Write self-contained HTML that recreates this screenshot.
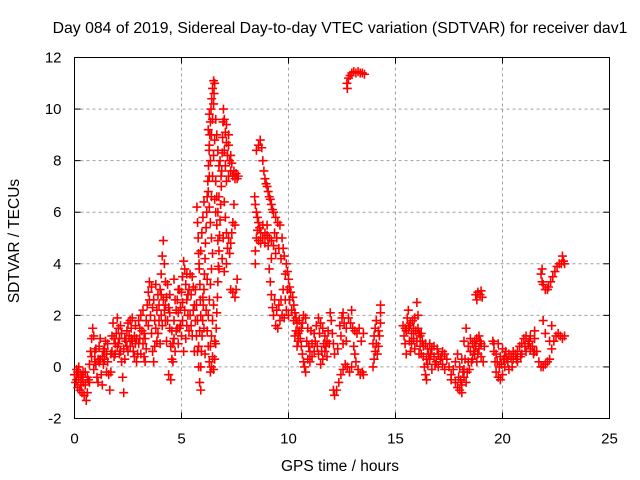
<!DOCTYPE html>
<html><head><meta charset="utf-8"><style>
html,body{margin:0;padding:0;background:#fff;}
svg{display:block;font-family:"Liberation Sans",sans-serif;}
</style></head><body>
<svg id="chart" width="640" height="480">
<text x="340" y="33" font-size="15.8" text-anchor="middle">Day 084 of 2019, Sidereal Day-to-day VTEC variation (SDTVAR) for receiver dav1</text>
<g id="grid"></g>
<g id="axes"></g>
<g id="marks"></g>
<text x="340" y="471" font-size="15.5" text-anchor="middle">GPS time / hours</text>
<text transform="translate(19,241) rotate(-90)" font-size="15.5" text-anchor="middle">SDTVAR / TECUs</text>
</svg>
<script>
const xTicks=[0,5,10,15,20,25];
const yTicks=[-2,0,2,4,6,8,10,12];
const segLow=[[0,-0.3],[0.05,-0.6],[0.1,-0.1],[0.15,-0.8],[0.2,-0.4],[0.25,-0.9],[0.3,-0.3],[0.35,-1.0],[0.4,-0.6],[0.45,-1.1],[0.5,-0.7],[0.55,-1.3],[0.6,-1.0],[0.65,-0.5],[0.7,0.1],[0.75,0.6],[0.8,1.1],[0.85,1.5],[0.9,1.2],[0.95,0.6],[1.0,0.1],[1.05,-0.4],[1.1,0.3],[1.15,0.8],[1.2,0.3],[1.25,-0.3],[1.3,-0.7],[1.35,0.1],[1.4,0.7],[1.45,1.0],[1.5,0.5],[1.55,0.9],[1.6,-0.3],[1.65,-0.9],[1.7,0.5],[1.75,1.2],[1.8,1.7],[1.85,1.1],[1.9,0.5],[1.95,1.3],[2.0,1.9],[2.05,1.5],[2.1,1.1],[2.15,0.6],[2.2,0.2],[2.25,-0.4],[2.3,-1.0],[2.35,0.3],[2.4,1.0],[2.45,1.4],[2.5,1.7],[2.55,1.2],[2.6,0.8],[2.65,1.5],[2.7,1.0],[2.75,0.6],[2.8,1.2],[2.85,1.6],[2.9,1.1],[2.95,0.5],[3.0,0.9],[3.05,1.5],[3.1,2.0],[3.15,1.4],[3.2,0.9],[3.25,0.4],[3.3,1.1],[3.35,1.8],[3.4,2.4],[3.45,2.9],[3.5,3.3],
[0.1,-0.5],[0.3,-0.7],[0.5,-0.2],[0.7,-0.6],[0.9,-0.1],[1.1,-0.6],[1.3,0.4],[1.5,-0.2],[1.7,-0.2],[1.9,0.9],[2.1,0.5],[2.3,0.7],[2.5,0.6],[2.7,1.9],[2.9,0.2],[3.1,0.5],[3.3,0.2],[0.2,0.0],[0.4,-0.2],[1.0,0.7],[1.2,1.1],[1.4,0.3],[2.0,0.8],[2.2,1.3],[2.6,1.8],[2.8,0.4],[3.0,1.8],[3.2,2.2],
[0.15,-0.2],[0.35,-0.4],[0.6,-0.4],[0.8,0.4],[0.95,0.2],[1.15,0.2],[1.35,0.6],[1.55,0.2],[1.75,0.6],[1.85,0.4],[2.05,0.9],[2.15,1.6],[2.35,1.1],[2.45,0.8],[2.65,1.1],[2.85,0.9],[3.05,1.1],[3.25,1.3],[3.35,0.7],[3.45,1.6]];
const segMorning=[[3.5,2.6],[3.55,2.0],[3.6,1.3],[3.65,0.6],[3.7,0.2],[3.75,0.8],[3.8,1.5],[3.85,2.2],[3.9,2.8],[3.95,2.4],[4.0,3.0],[4.05,3.6],[4.1,4.3],[4.15,4.9],[4.2,4.0],[4.25,3.3],[4.3,2.7],[4.35,3.2],[4.4,2.3],[4.45,1.5],[4.5,0.8],[4.55,0.3],[4.6,0.9],[4.65,1.8],[4.7,2.6],[4.75,2.2],[4.8,1.5],[4.85,0.9],[4.9,1.5],[4.95,2.3],[5.0,2.9],[5.05,3.5],[5.1,4.1],[5.15,3.8],[5.2,3.2],[5.25,2.6],[5.3,2.0],[5.35,1.4],[5.4,2.0],[5.45,2.8],[5.5,3.5],[5.55,3.1],[5.6,2.4],[5.65,1.8],[5.7,1.2],[5.75,0.6],[5.8,0.0],[5.85,-0.6],[5.9,-0.9],
[3.6,3.1],[3.7,2.6],[3.8,3.2],[3.9,1.3],[4.0,0.9],[4.1,1.6],[4.2,2.2],[4.3,1.0],[4.4,-0.3],[4.5,-0.5],[4.6,0.2],[4.7,0.6],[4.8,2.6],[4.9,3.0],[5.0,1.2],[5.1,0.6],[5.2,1.1],[5.3,2.8],[5.4,3.6],[5.5,1.2],[5.6,0.6],[5.7,2.4],[4.05,2.0],[4.25,1.8],[4.45,2.8],[4.65,3.4],[4.85,3.0],[5.05,1.8],[5.25,1.6],
[3.65,2.3],[3.75,1.8],[3.85,1.0],[3.95,1.8],[4.05,2.8],[4.15,2.6],[4.25,2.4],[4.35,1.8],[4.45,2.1],[4.55,1.4],[4.65,1.1],[4.75,1.4],[4.85,2.1],[4.95,1.6],[5.05,2.5],[5.15,2.2],[5.25,3.6],[5.35,3.0],[5.45,1.6],[5.55,2.2],[5.65,3.0],[5.75,1.8]];
const segPeak=[[5.9,0.0],[5.93,0.6],[5.96,1.2],[5.99,1.8],[6.02,2.4],[6.05,3.0],[6.07,3.6],[6.1,4.2],[6.12,4.8],[6.15,5.4],[6.18,6.0],[6.2,6.6],[6.23,7.2],[6.26,7.8],[6.29,8.4],[6.32,9.0],[6.35,9.5],[6.38,10.0],[6.41,10.4],[6.45,10.8],[6.5,11.1],[6.55,11.0],[6.52,10.6],
[5.72,6.2],[5.75,5.6],[5.78,5.0],[5.8,4.4],[5.83,3.8],[5.86,3.2],[5.88,2.6],[5.9,2.0],[5.85,1.4],[5.8,0.8],[5.82,4.0],[5.9,4.5],[5.95,5.2],[6.0,5.8],[6.05,6.4],
[6.3,9.8],[6.25,9.2],[6.3,8.6],[6.35,8.0],[6.3,7.4],[6.25,6.8],[6.3,6.2],[6.35,5.6],[6.4,5.0],[6.45,4.4],[6.4,3.8],[6.35,3.2],[6.3,2.6],[6.25,2.0],[6.2,1.4],[6.25,0.8],[6.3,0.2],[6.35,-0.2],[6.4,0.0],[6.45,0.4],[6.5,-0.1],[6.55,0.3],[6.6,0.9],[6.62,1.5],[6.65,2.1],[6.68,2.7],[6.7,3.3],[6.72,3.9],[6.75,4.5],[6.78,5.1],[6.8,5.7],[6.83,6.3],[6.86,7.0],[6.88,7.6],[6.9,8.3],[6.92,8.9],[6.94,9.5],[6.96,10.0],[7.0,9.6],[7.05,9.1],[7.1,8.7],[7.15,8.2],[7.2,8.6],[7.25,8.0],[7.3,7.6],[7.35,7.9],[7.4,7.4],[7.45,7.6],[7.5,7.3],[7.55,7.5],[7.6,7.3],[7.65,7.4],
[6.6,9.6],[6.65,9.0],[6.7,8.4],[6.75,7.8],[6.8,8.0],[6.85,7.4],[6.55,6.5],[6.6,6.0],[6.65,5.5],[6.7,4.9],[6.75,3.8],
[6.9,4.2],[7.0,3.7],[7.1,4.0],[7.15,4.6],[7.2,5.0],[7.25,4.4],[7.3,4.8],[7.35,5.2],[7.4,5.6],[7.45,6.3],[7.5,5.5],[7.3,3.0],[7.4,2.9],[7.5,2.7],[7.55,3.0],[7.6,3.4],
[6.0,2.7],[6.05,1.5],[6.1,0.5],[6.15,2.2],[6.2,3.4],[6.4,6.6],[6.45,7.4],[6.5,8.2],[6.55,8.8],[6.4,9.0],[6.45,9.6],[6.5,10.2],[6.6,7.2],[6.65,6.6],[6.7,6.0],[6.75,6.6],[7.0,8.4],[7.05,7.8],[7.1,7.2],[7.0,6.4],[7.05,5.8],[7.1,5.2],[6.95,5.0],[6.4,1.2],[6.45,1.8],[6.5,2.4],[6.55,1.0],[6.35,0.8],[7.2,7.4],[7.3,8.2],[7.1,9.4],[7.2,9.0]];
const segDecay=[[8.5,8.4],[8.6,8.6],[8.68,8.8],[8.75,8.5],[8.8,8.0],[8.85,7.6],[8.9,7.3],[8.95,7.1],[9.0,7.0],[9.05,6.8],[9.1,6.6],[9.15,6.5],[9.2,6.3],[9.25,6.1],[9.3,6.0],[9.4,5.8],[9.5,5.6],[9.6,5.5],[9.7,5.0],[9.75,4.6],[9.8,4.3],[9.9,4.0],[9.95,3.7],[10.0,3.4],[10.05,3.1],[10.1,2.9],[10.2,2.7],[10.25,2.4],[10.3,2.1],[10.35,1.9],[10.4,1.7],[10.5,1.4],[10.55,1.1],[10.6,0.8],[10.65,0.5],[10.7,0.2],
[8.42,6.6],[8.45,6.3],[8.5,6.0],[8.55,5.8],[8.6,5.6],[8.65,5.4],[8.7,5.2],[8.5,5.0],[8.6,4.9],[8.8,5.0],[8.9,5.2],[9.0,5.1],[9.1,5.0],[9.2,4.9],[9.3,4.7],[9.4,4.4],[9.2,4.2],[9.1,3.8],[9.15,3.3],[9.2,2.8],[9.25,2.3],[9.3,2.0],[9.4,1.6],[9.5,1.5],[9.6,1.8],[9.7,2.0],[9.8,1.9],[9.9,2.2],[10.0,2.0],[8.45,4.5],[8.45,4.0],[8.8,5.5],[9.0,5.5],
[8.55,5.3],[8.7,4.8],[8.9,4.8],[9.05,4.7],[9.35,5.2],[9.45,5.0],[9.55,4.6],[9.65,4.2],[9.85,3.6],[9.95,3.0],[10.05,2.6],[10.15,2.2],[10.25,1.8],[10.35,1.4],[10.45,1.0],[9.35,2.6],[9.45,2.2],[9.55,2.4],[9.65,2.6],[9.75,3.0],[9.85,2.6]];
const segMidday=[[10.3,1.2],[10.4,0.8],[10.5,1.8],[10.6,1.5],[10.7,2.0],[10.8,1.9],[10.9,1.5],[10.75,0.0],[10.8,-0.2],[10.9,0.3],[11.0,0.6],[11.1,0.9],[11.2,1.3],[11.3,1.6],[11.4,1.9],[11.5,1.7],[11.6,1.5],[11.7,1.2],[11.8,1.0],[11.0,0.2],[11.1,0.4],[11.2,0.6],[11.4,0.5],[11.5,0.1],[11.6,0.3],[11.7,0.6],[11.8,0.4],[11.9,0.9],[11.95,2.1],[12.0,1.8],[12.05,1.3],[12.1,0.9],[12.15,0.5],[12.1,-0.9],[12.15,-1.1],[12.25,-0.9],[12.35,-0.6],[12.45,-0.3],[12.55,-0.1],[12.65,0.1],[12.75,0.0],[12.85,-0.2],[12.95,0.0],[13.05,0.8],[13.15,0.2],[13.25,-0.1],[13.35,-0.3],[13.45,-0.2],[13.5,-0.3],[12.3,0.7],[12.4,1.6],[12.5,1.9],[12.6,1.7],[12.7,1.5],[12.8,1.9],[12.9,1.7],[13.0,1.5],[13.1,1.4],[13.2,1.3],[13.3,1.5],[13.4,1.0],[13.5,1.3],[12.45,1.2],[12.55,0.9],[12.7,1.0],[13.1,0.5],[12.55,2.1],[12.95,2.2],
[10.45,1.3],[10.65,1.7],[10.85,1.0],[10.95,0.8],[11.05,1.4],[11.25,1.0],[11.35,0.8],[11.45,1.3],[11.55,0.6],[11.65,0.9],[11.75,0.8],[11.85,1.4],
[13.95,0.0],[14.0,0.3],[14.05,0.6],[13.95,0.9],[14.0,1.2],[14.05,1.5],[14.1,1.8],[14.15,0.5],[14.2,0.8],[14.25,1.2],[14.3,1.7],[14.3,2.1],[14.3,2.4],[14.2,1.4],[14.1,0.9],
[12.73,11.0],[12.8,11.2],[12.88,11.3],[12.96,11.4],[13.05,11.45],[13.15,11.4],[13.25,11.45],[13.35,11.4],[13.45,11.4],[13.55,11.35],[12.75,10.8]];
const segEvening=[[15.35,1.6],[15.4,1.2],[15.45,0.9],[15.5,1.4],[15.55,1.9],[15.6,1.5],[15.65,1.0],[15.7,0.6],[15.75,1.3],[15.8,1.8],[15.85,1.1],[15.9,0.7],[15.95,1.4],[16.0,2.5],[16.05,2.0],[16.1,1.3],[16.15,0.8],[16.2,0.5],[16.25,1.0],[16.3,0.4],[16.35,0.0],[16.4,-0.3],[16.45,-0.5],[16.5,0.1],[16.55,0.5],[16.6,0.9],[16.7,0.7],[16.8,0.4],[16.9,0.2],[17.0,0.5],[17.1,0.3],[17.2,0.6],[17.3,0.5],[17.4,0.3],[15.5,0.5],[15.6,2.2],[15.7,1.7],[15.9,1.9],[16.0,1.0],[16.1,0.5],[16.2,1.3],[16.4,0.9],[16.5,0.7],[16.6,0.3],[16.7,-0.1],[16.8,0.8],[17.0,0.0],[17.2,0.1],[17.3,-0.1],[17.5,0.0],[17.6,-0.3],
[15.45,1.5],[15.65,1.6],[15.75,0.9],[15.85,1.5],[16.05,1.5],[16.15,1.2],[16.3,0.8],[16.45,0.3],[16.65,0.5],[16.85,0.1],[16.95,0.7],[17.15,0.4],
[17.6,-0.5],[17.7,-0.1],[17.8,-0.6],[17.9,-0.8],[18.0,-0.9],[18.1,-0.7],[18.2,-0.4],[18.3,-0.6],[18.35,-0.2],[18.4,0.2],[18.5,0.6],[18.6,0.9],[18.7,1.0],[18.8,1.1],[18.9,0.7],[19.0,0.4],[19.1,0.2],[19.15,0.8],[17.8,0.2],[17.9,0.5],[18.0,0.0],[18.1,0.3],[18.2,-0.1],[18.4,0.8],[18.5,1.1],[18.6,0.3],[18.7,0.5],[18.8,0.2],[18.9,1.2],[19.0,0.9],[18.2,1.0],[18.3,1.5],[18.1,-1.0],
[17.95,-0.4],[18.05,-0.5],[18.15,-0.2],[18.25,0.3],[18.45,-0.1],[18.55,0.2],[18.65,0.6],[18.75,0.8],[18.85,0.5],[18.95,1.0],
[18.75,2.8],[18.85,2.9],[18.95,2.8],[19.05,2.7],[18.8,2.6],[19.0,2.95]];
const segNight=[[19.55,1.0],[19.6,0.6],[19.65,0.2],[19.7,-0.2],[19.8,-0.4],[19.9,-0.5],[20.0,-0.3],[20.1,0.0],[20.2,0.3],[20.3,0.5],[20.4,0.4],[20.5,0.3],[20.6,0.5],[20.7,0.6],[20.8,0.8],[20.9,0.9],[21.0,1.1],[21.1,1.2],[21.2,0.9],[21.3,0.7],[21.4,0.8],[21.5,0.6],[21.6,0.6],[21.7,0.2],[21.8,0.0],[21.9,0.0],[22.0,0.1],[22.1,0.2],[22.2,0.3],[22.3,0.7],[22.4,1.0],[22.5,1.2],[22.6,1.3],[22.7,1.2],[22.8,1.1],[22.9,1.2],[19.6,0.9],[19.7,0.5],[19.8,0.9],[19.9,0.4],[20.0,0.7],[20.1,0.4],[20.3,-0.1],[20.5,0.6],[20.7,0.2],[20.9,0.5],[21.1,0.6],[21.3,1.2],[21.5,1.1],[21.5,1.4],[21.9,1.8],[22.0,1.3],[22.2,1.0],[22.3,1.6],
[19.75,0.2],[19.85,0.0],[19.95,0.1],[20.05,0.3],[20.15,0.6],[20.25,0.2],[20.45,0.0],[20.65,0.3],[20.85,0.4],[21.05,0.8],[21.25,1.0],[21.45,0.5],
[21.8,3.6],[21.85,3.3],[21.9,3.2],[22.0,3.0],[22.1,3.0],[22.15,3.1],[22.25,3.3],[22.35,3.5],[22.45,3.7],[22.55,3.9],[22.65,4.0],[22.75,4.0],[22.85,4.1],[22.9,4.0],[22.8,4.3],[21.85,3.8]];

const X0=74.5,X1=609.5,Y0=418.5,Y1=57.5;
const xMin=0,xMax=25,yMin=-2,yMax=12;
function sx(t){return X0+(t-xMin)/(xMax-xMin)*(X1-X0);}
function sy(v){return Y0-(v-yMin)/(yMax-yMin)*(Y0-Y1);}
const NS="http://www.w3.org/2000/svg";
function mk(tag,attrs,parent){const e=document.createElementNS(NS,tag);for(const k in attrs)e.setAttribute(k,attrs[k]);parent.appendChild(e);return e;}
const grid=document.getElementById('grid'),axes=document.getElementById('axes'),marks=document.getElementById('marks');
xTicks.forEach(t=>{
  const x=sx(t);
  if(t>xMin&&t<xMax){const g=mk('line',{x1:x,y1:Y0,x2:x,y2:Y1,stroke:'#a0a0a0','stroke-dasharray':'3,3'},grid);
  
  }
  mk('line',{x1:x,y1:Y0,x2:x,y2:Y0-6,stroke:'#000'},axes);
  mk('line',{x1:x,y1:Y1,x2:x,y2:Y1+6,stroke:'#000'},axes);
  const lb=mk('text',{x:x,y:Y0+25,'font-size':15,'text-anchor':'middle'},axes);
  lb.textContent=t;
  
  
});
yTicks.forEach(v=>{
  const y=sy(v);
  if(v>yMin&&v<yMax){const g=mk('line',{x1:X0,y1:y,x2:X1,y2:y,stroke:'#a0a0a0','stroke-dasharray':'3,3'},grid);
  
  }
  mk('line',{x1:X0,y1:y,x2:X0+6,y2:y,stroke:'#000'},axes);
  mk('line',{x1:X1,y1:y,x2:X1-6,y2:y,stroke:'#000'},axes);
  const lb=mk('text',{x:X0-13,y:y+5,'font-size':15,'text-anchor':'end'},axes);
  lb.textContent=v;
  
  
});
const frame=mk('rect',{x:X0,y:Y1,width:X1-X0,height:Y0-Y1,fill:'none',stroke:'#000'},axes);


[segLow,segMorning,segPeak,segDecay,segMidday,segEvening,segNight].forEach(seg=>{
  seg.forEach(p=>{
    const x=sx(p[0]),y=sy(p[1]);
    const m=mk('path',{d:`M${x-4.5},${y}H${x+4.5}M${x},${y-4.5}V${y+4.5}`,stroke:'#ff0000','stroke-width':1.6,fill:'none'},marks);
    
    
  });
});
</script>
</body></html>
